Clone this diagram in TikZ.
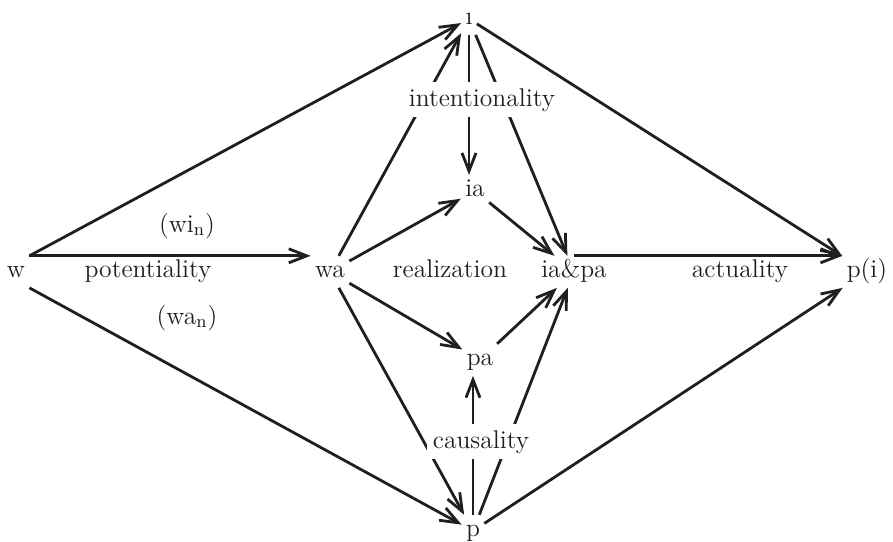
\documentclass[tikz,border=0pt]{standalone}
\usepackage{amsmath}
\usetikzlibrary{arrows.meta,calc}

\tikzset{
	state/.style={inner xsep=1.5pt,inner ysep=3pt,text height=1.6ex,text depth=0.4ex,anchor=base},
	lbl/.style={inner sep=0pt,anchor=base},
	cut/.style={fill=white,inner sep=3pt,anchor=base},
	arr/.style={-{Straight Barb[length=9pt,width=7pt]}},
}

\begin{document}
\begin{tikzpicture}[x=0.5pt,y=-0.5pt,line width=1.4pt,color=black!88,font=\fontsize{12.8}{15}\selectfont]
	\useasboundingbox (0,0) rectangle (893,541);
	\node[state] (w) at (16,277) {w};
	\node[state] (wa) at (330,277) {wa};
	\node[state] (i) at (469,24) {\i};
	\node[state] (ia) at (475,196) {ia};
	\node[state] (iapa) at (574,277) {ia\&pa};
	\node[state] (pa) at (480,365) {pa};
	\node[state] (p) at (473,536) {p};
	\node[state] (pi) at (867,277) {p(i)};
	%
	\draw[arr] (w.north east) -- (wa.north west);
	\draw[arr] (w.north east) -- (i);
	\draw[arr] (w.south east) -- (p);
	\draw[arr] (wa) -- (i);
	\draw[arr] (wa) -- (ia);
	\draw[arr] (wa) -- (pa);
	\draw[arr] (wa) -- (p);
	\draw[arr] (i) -- (i |- ia.north);
	\draw[arr] (i) -- (iapa);
	\draw[arr] (i) -- (pi);
	\draw[arr] (ia) -- (iapa);
	\draw[arr] (pa) -- (iapa);
	\draw[arr] (p) -- (p |- pa.south);
	\draw[arr] (p) -- (iapa);
	\draw[arr] (p) -- (pi);
	\draw[arr] (iapa.north) -- (pi.north west);
	%
	\node[cut] (inten) at (482,106) {intentionality};
	\node[cut] (caus) at (481,448) {causality};
	\node[lbl] (pot) at (148,277) {potentiality};
	\node[lbl] (win) at (187,232) {(wi\textsubscript{n})};
	\node[lbl] (wan) at (187,324) {(wa\textsubscript{n})};
	\node[lbl] (real) at (450,277) {realization};
	\node[lbl] (act) at (740,277) {actuality};
\end{tikzpicture}
\end{document}
